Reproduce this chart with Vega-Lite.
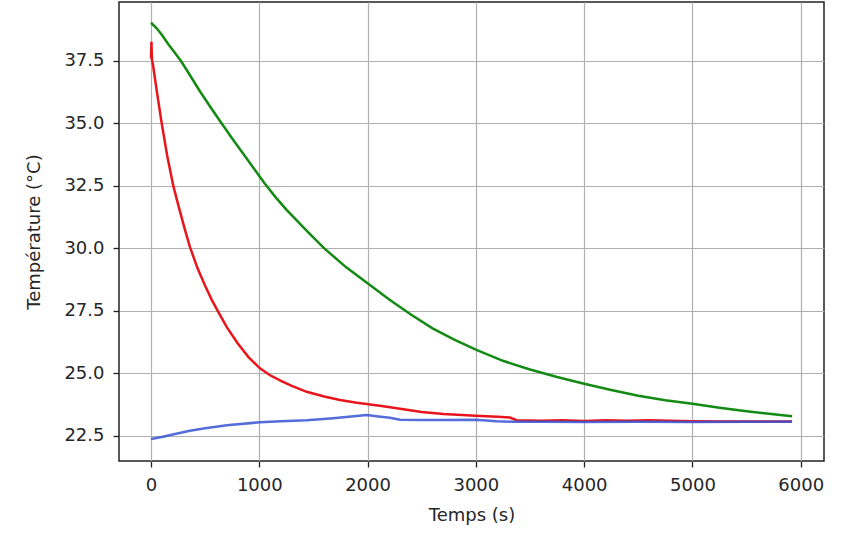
{
  "$schema": "https://vega.github.io/schema/vega-lite/v6.json",
  "autosize": {"type": "none"},
  "width": 705,
  "height": 459,
  "padding": {"left": 119, "top": 2, "right": 21, "bottom": 79},
  "background": "white",
  "config": {
    "view": {"stroke": "#222", "strokeWidth": 1.5},
    "font": "DejaVu Sans",
    "axis": {
      "domain": false,
      "grid": true,
      "gridColor": "#b0b0b0",
      "gridWidth": 1.2,
      "tickColor": "#222",
      "tickSize": 6,
      "tickWidth": 1.3,
      "labelFont": "DejaVu Sans",
      "labelFontSize": 18,
      "labelColor": "#262626",
      "labelPadding": 9,
      "titleFont": "DejaVu Sans",
      "titleFontSize": 18,
      "titleFontWeight": "normal",
      "titleColor": "#262626"
    }
  },
  "datasets": {
    "mesures": [
      {"serie": "vert", "t": 0, "T": 39.03},
      {"serie": "vert", "t": 50, "T": 38.82},
      {"serie": "vert", "t": 100, "T": 38.55},
      {"serie": "vert", "t": 160, "T": 38.17},
      {"serie": "vert", "t": 220, "T": 37.83},
      {"serie": "vert", "t": 277, "T": 37.5},
      {"serie": "vert", "t": 350, "T": 37.0},
      {"serie": "vert", "t": 450, "T": 36.3},
      {"serie": "vert", "t": 550, "T": 35.65},
      {"serie": "vert", "t": 653, "T": 35.0},
      {"serie": "vert", "t": 750, "T": 34.4},
      {"serie": "vert", "t": 850, "T": 33.8},
      {"serie": "vert", "t": 950, "T": 33.2},
      {"serie": "vert", "t": 1050, "T": 32.6},
      {"serie": "vert", "t": 1150, "T": 32.05},
      {"serie": "vert", "t": 1250, "T": 31.55},
      {"serie": "vert", "t": 1350, "T": 31.1},
      {"serie": "vert", "t": 1450, "T": 30.65},
      {"serie": "vert", "t": 1600, "T": 30.0},
      {"serie": "vert", "t": 1800, "T": 29.25},
      {"serie": "vert", "t": 2000, "T": 28.6},
      {"serie": "vert", "t": 2200, "T": 27.95},
      {"serie": "vert", "t": 2400, "T": 27.35},
      {"serie": "vert", "t": 2600, "T": 26.8},
      {"serie": "vert", "t": 2800, "T": 26.35},
      {"serie": "vert", "t": 3000, "T": 25.95},
      {"serie": "vert", "t": 3250, "T": 25.5},
      {"serie": "vert", "t": 3500, "T": 25.15},
      {"serie": "vert", "t": 3750, "T": 24.85},
      {"serie": "vert", "t": 4000, "T": 24.58},
      {"serie": "vert", "t": 4250, "T": 24.33},
      {"serie": "vert", "t": 4500, "T": 24.1},
      {"serie": "vert", "t": 4750, "T": 23.92},
      {"serie": "vert", "t": 5000, "T": 23.78},
      {"serie": "vert", "t": 5250, "T": 23.62},
      {"serie": "vert", "t": 5500, "T": 23.48},
      {"serie": "vert", "t": 5750, "T": 23.36},
      {"serie": "vert", "t": 5920, "T": 23.28},

      {"serie": "rouge", "t": 0, "T": 37.6},
      {"serie": "rouge", "t": 4, "T": 38.27},
      {"serie": "rouge", "t": 9, "T": 37.55},
      {"serie": "rouge", "t": 20, "T": 37.3},
      {"serie": "rouge", "t": 50, "T": 36.4},
      {"serie": "rouge", "t": 99, "T": 35.0},
      {"serie": "rouge", "t": 150, "T": 33.7},
      {"serie": "rouge", "t": 206, "T": 32.5},
      {"serie": "rouge", "t": 260, "T": 31.6},
      {"serie": "rouge", "t": 310, "T": 30.8},
      {"serie": "rouge", "t": 360, "T": 30.05},
      {"serie": "rouge", "t": 430, "T": 29.2},
      {"serie": "rouge", "t": 500, "T": 28.5},
      {"serie": "rouge", "t": 560, "T": 27.95},
      {"serie": "rouge", "t": 621, "T": 27.46},
      {"serie": "rouge", "t": 700, "T": 26.85},
      {"serie": "rouge", "t": 800, "T": 26.2},
      {"serie": "rouge", "t": 900, "T": 25.65},
      {"serie": "rouge", "t": 1006, "T": 25.2},
      {"serie": "rouge", "t": 1100, "T": 24.92},
      {"serie": "rouge", "t": 1200, "T": 24.7},
      {"serie": "rouge", "t": 1300, "T": 24.5},
      {"serie": "rouge", "t": 1438, "T": 24.26},
      {"serie": "rouge", "t": 1600, "T": 24.07},
      {"serie": "rouge", "t": 1745, "T": 23.93},
      {"serie": "rouge", "t": 1900, "T": 23.82},
      {"serie": "rouge", "t": 2114, "T": 23.7},
      {"serie": "rouge", "t": 2300, "T": 23.58},
      {"serie": "rouge", "t": 2500, "T": 23.45},
      {"serie": "rouge", "t": 2700, "T": 23.37},
      {"serie": "rouge", "t": 2998, "T": 23.3},
      {"serie": "rouge", "t": 3200, "T": 23.26},
      {"serie": "rouge", "t": 3315, "T": 23.23},
      {"serie": "rouge", "t": 3377, "T": 23.12},
      {"serie": "rouge", "t": 3600, "T": 23.1},
      {"serie": "rouge", "t": 3800, "T": 23.12},
      {"serie": "rouge", "t": 4000, "T": 23.09},
      {"serie": "rouge", "t": 4200, "T": 23.12},
      {"serie": "rouge", "t": 4400, "T": 23.1},
      {"serie": "rouge", "t": 4600, "T": 23.12},
      {"serie": "rouge", "t": 4800, "T": 23.1},
      {"serie": "rouge", "t": 5000, "T": 23.08},
      {"serie": "rouge", "t": 5300, "T": 23.07},
      {"serie": "rouge", "t": 5600, "T": 23.07},
      {"serie": "rouge", "t": 5920, "T": 23.07},

      {"serie": "bleu", "t": 0, "T": 22.37},
      {"serie": "bleu", "t": 100, "T": 22.45},
      {"serie": "bleu", "t": 200, "T": 22.55},
      {"serie": "bleu", "t": 360, "T": 22.7},
      {"serie": "bleu", "t": 500, "T": 22.8},
      {"serie": "bleu", "t": 700, "T": 22.92},
      {"serie": "bleu", "t": 1006, "T": 23.04},
      {"serie": "bleu", "t": 1200, "T": 23.08},
      {"serie": "bleu", "t": 1438, "T": 23.12},
      {"serie": "bleu", "t": 1683, "T": 23.2},
      {"serie": "bleu", "t": 1850, "T": 23.27},
      {"serie": "bleu", "t": 1992, "T": 23.33},
      {"serie": "bleu", "t": 2100, "T": 23.27},
      {"serie": "bleu", "t": 2207, "T": 23.22},
      {"serie": "bleu", "t": 2300, "T": 23.14},
      {"serie": "bleu", "t": 2500, "T": 23.13},
      {"serie": "bleu", "t": 2700, "T": 23.13},
      {"serie": "bleu", "t": 2998, "T": 23.14},
      {"serie": "bleu", "t": 3192, "T": 23.08},
      {"serie": "bleu", "t": 3345, "T": 23.06},
      {"serie": "bleu", "t": 3600, "T": 23.06},
      {"serie": "bleu", "t": 4000, "T": 23.05},
      {"serie": "bleu", "t": 4500, "T": 23.06},
      {"serie": "bleu", "t": 5000, "T": 23.05},
      {"serie": "bleu", "t": 5500, "T": 23.06},
      {"serie": "bleu", "t": 5920, "T": 23.06}
    ]
  },
  "data": {"name": "mesures"},
  "encoding": {
    "x": {
      "field": "t",
      "type": "quantitative",
      "scale": {"domain": [-295.5, 6215], "nice": false, "zero": false},
      "axis": {"title": "Temps (s)", "values": [0, 1000, 2000, 3000, 4000, 5000, 6000], "format": "d", "titlePadding": 12}
    },
    "y": {
      "field": "T",
      "type": "quantitative",
      "scale": {"domain": [21.49, 39.86], "nice": false, "zero": false},
      "axis": {"title": "Température (°C)", "values": [22.5, 25, 27.5, 30, 32.5, 35, 37.5], "format": ".1f", "titlePadding": 20}
    }
  },
  "layer": [
    {
      "transform": [{"filter": "datum.serie === 'vert'"}],
      "mark": {"type": "line", "color": "#138a13", "strokeWidth": 2.5, "clip": true}
    },
    {
      "transform": [{"filter": "datum.serie === 'rouge'"}],
      "mark": {"type": "line", "color": "#e8161c", "strokeWidth": 2.5, "clip": true}
    },
    {
      "transform": [{"filter": "datum.serie === 'bleu'"}],
      "mark": {"type": "line", "color": "#3653d2", "strokeWidth": 2.5, "opacity": 0.85, "clip": true}
    }
  ]
}
